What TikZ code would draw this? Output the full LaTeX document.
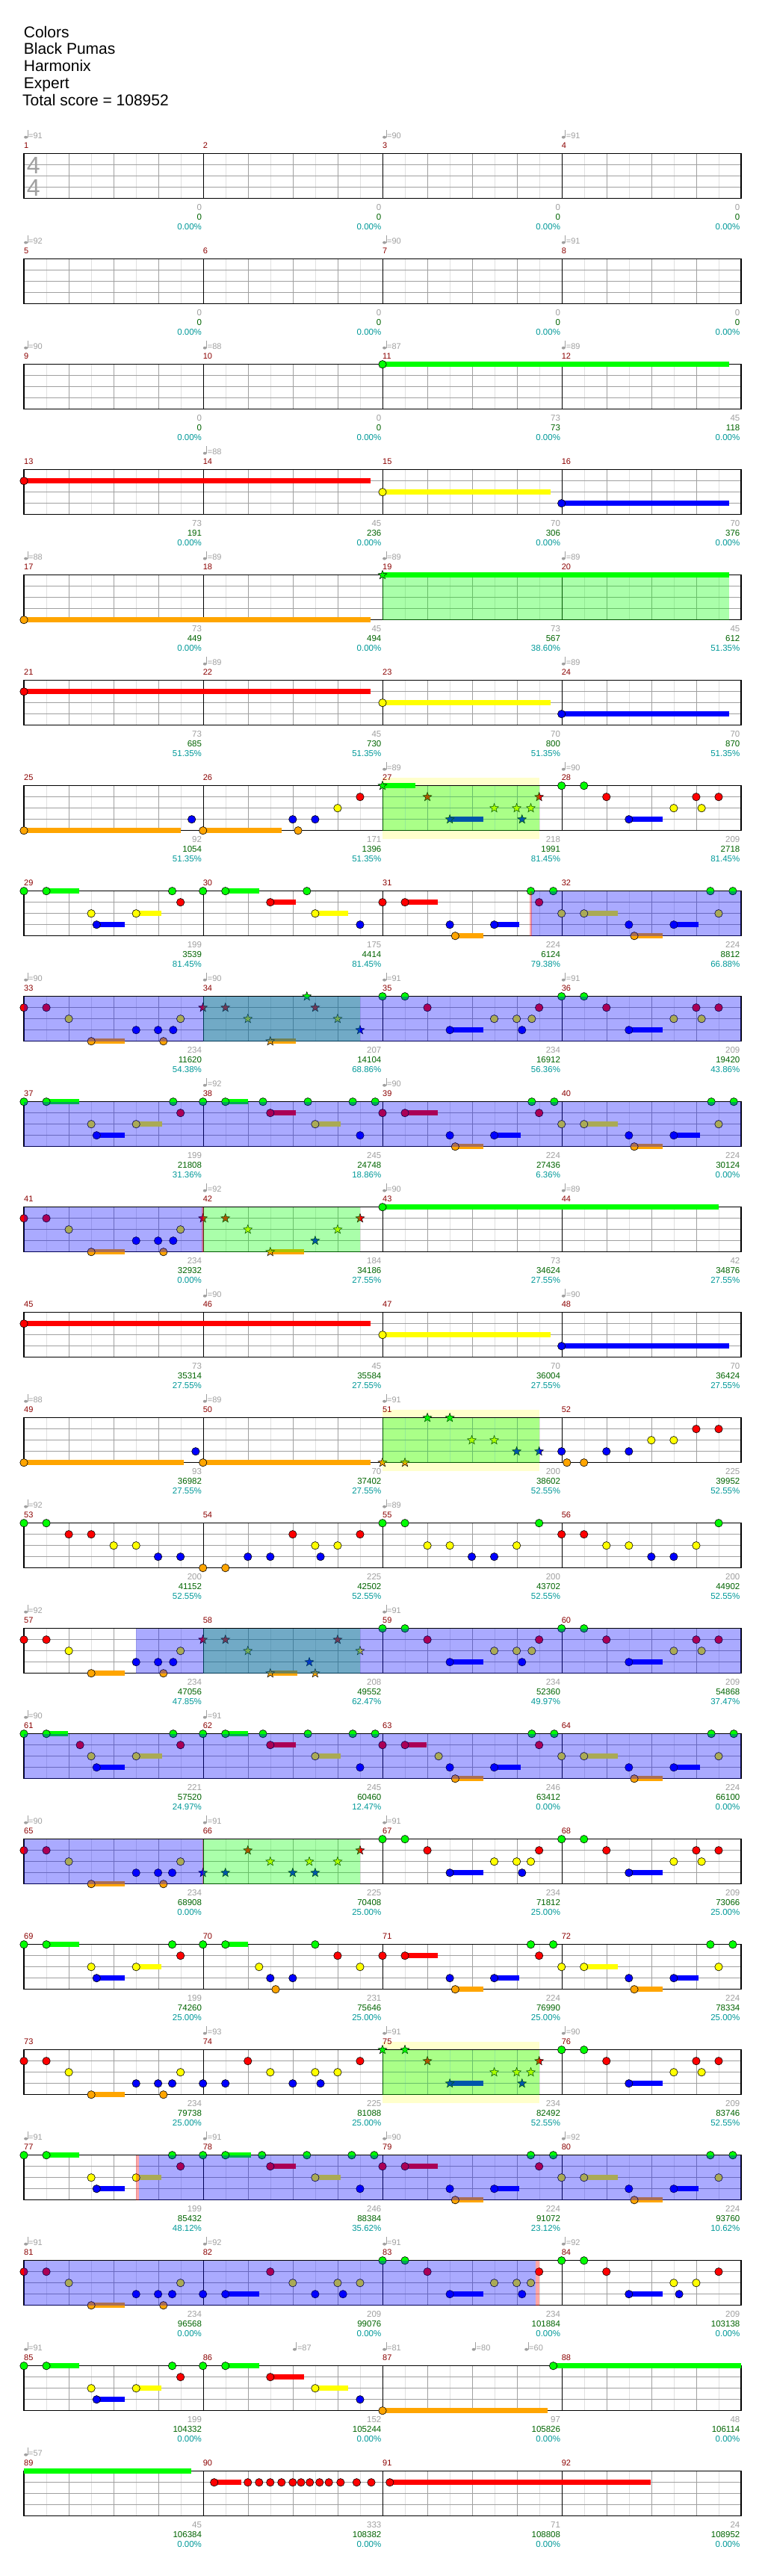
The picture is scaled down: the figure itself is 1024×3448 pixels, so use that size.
\documentclass[tikz,border=0pt]{standalone}
\usepackage{fontspec}
\setmainfont{Liberation Sans}
\usetikzlibrary{shapes.geometric}
\definecolor{lc0}{HTML}{00FF00}
\definecolor{lc1}{HTML}{FF0000}
\definecolor{lc2}{HTML}{FFFF00}
\definecolor{lc3}{HTML}{0000FF}
\definecolor{lc4}{HTML}{FFA500}
\definecolor{mred}{HTML}{8B0000}
\definecolor{lgray}{HTML}{A0A0A0}
\definecolor{sgreen}{HTML}{006400}
\definecolor{steal}{HTML}{009999}
\definecolor{ylw}{HTML}{FFFFCC}
\definecolor{litegrid}{HTML}{E0E0E0}
\tikzset{
 rw/.style={xshift=0.653pt,x=0.65306pt,y=-15pt},
 nt/.style={draw=black,line width=0.6pt},
 stn/.style={star,star points=5,star point ratio=2.4,minimum size=12.5pt,inner sep=0pt,draw=black,line width=0.5pt},
 mnum/.style={anchor=base west,inner sep=0pt,text=mred,font=\fontsize{11}{11}\selectfont},
 tempo/.style={anchor=base west,inner sep=0pt,text=lgray,font=\fontsize{11}{11}\selectfont},
 lbl/.style={anchor=base east,inner sep=0pt,font=\fontsize{11.5}{11.5}\selectfont},
 ttl/.style={anchor=base west,inner sep=0pt,font=\fontsize{21}{21}\selectfont},
 tsig/.style={inner sep=0pt,text=lgray,font=\fontsize{32}{32}\selectfont},
}
\newcommand\grid{%
 \foreach \i in {1,3,...,31}{\draw[litegrid,line width=0.9pt] ({48+45.9375*\i},0)--({48+45.9375*\i},4);}
 \foreach \i in {2,4,6,10,12,14,18,20,22,26,28,30}{\draw[lgray,line width=0.9pt] ({48+45.9375*\i},0)--({48+45.9375*\i},4);}
 \foreach \l in {1,2,3}{\draw[lgray,line width=0.9pt] (48,\l)--(1518,\l);}
 \foreach \i in {8,16,24}{\draw[black,line width=0.8pt] ({48+45.9375*\i},0)--({48+45.9375*\i},4);}
 \draw[black,line width=1.4pt] (48,0) rectangle (1518,4);}
\newcommand\mnums[1]{\node[mnum] at (48,-0.513){#1};\node[mnum] at (415,-0.513){\the\numexpr#1+1\relax};\node[mnum] at (783,-0.513){\the\numexpr#1+2\relax};\node[mnum] at (1150,-0.513){\the\numexpr#1+3\relax};}
\newcommand\tp[2]{\fill[lgray] (#1,-1.467) ++(2.6pt,0pt) ellipse [x radius=2.5pt, y radius=1.9pt];\draw[lgray,line width=0.7pt] (#1,-1.467) ++(4.9pt,0pt) -- ++(0pt,10pt);\node[tempo,xshift=6pt] at (#1,-1.333) {=#2};}
\newcommand\lb[4]{\node[lbl,text=lgray,xshift=-1.5pt] at (#1,5.067){#2};\node[lbl,text=sgreen,xshift=-1.5pt] at (#1,5.933){#3};\node[lbl,text=steal,xshift=-1.5pt] at (#1,6.8){#4\%};}
\newcommand\nn[2]{\draw[nt,fill=lc#2] (#1,#2) circle [radius=5.2pt];}
\newcommand\sn[3]{\draw[lc#3,line width=7pt] (#1,#3)--(#2,#3);\nn{#1}{#3}}
\newcommand\st[2]{\node[stn,fill=lc#2] at (#1,#2) {};}
\newcommand\sst[3]{\draw[lc#3,line width=7pt] (#1,#3)--(#2,#3);\st{#1}{#3}}
\newcommand\gov[2]{\fill[lc0,opacity=0.333] (#1,0) rectangle (#2,4);}
\newcommand\bov[2]{\fill[lc3,opacity=0.333] (#1,0) rectangle (#2,4);}
\newcommand\pnk[2]{\fill[lc1,opacity=0.35] (#1,0) rectangle (#2,4);}
\newcommand\yreg[2]{\fill[ylw] (#1,-0.713) rectangle (#2,4.733);}
\begin{document}
\begin{tikzpicture}
\useasboundingbox (0pt,0pt) rectangle (1024pt,-3448pt);
\fill[white] (0pt,0pt) rectangle (1024pt,-3448pt);
\node[ttl] (t1) at (31.7pt,-50pt) {Colors};
\node[ttl] (t2) at (31.7pt,-72.8pt) {Black Pumas};
\node[ttl] (t3) at (31.7pt,-95.6pt) {Harmonix};
\node[ttl] (t4) at (31.7pt,-118.4pt) {Expert};
\node[ttl] (t5) at (30pt,-141.2pt) {Total score = 108952};
% row 0
\begin{scope}[yshift=-205.7pt,rw]
\grid
\node[tsig] (ts1) at (67.5,1.02) {4};\node[tsig] (ts2) at (67.5,3.02) {4};
\mnums{1}\tp{48}{91}\tp{783}{90}\tp{1150}{91}
\lb{415}{0}{0}{0.00}\lb{783}{0}{0}{0.00}\lb{1150}{0}{0}{0.00}\lb{1518}{0}{0}{0.00}
\end{scope}
% row 1
\begin{scope}[yshift=-346.7pt,rw]
\grid
\mnums{5}\tp{48}{92}\tp{783}{90}\tp{1150}{91}
\lb{415}{0}{0}{0.00}\lb{783}{0}{0}{0.00}\lb{1150}{0}{0}{0.00}\lb{1518}{0}{0}{0.00}
\end{scope}
% row 2
\begin{scope}[yshift=-487.7pt,rw]
\grid
\mnums{9}\tp{48}{90}\tp{415}{88}\tp{783}{87}\tp{1150}{89}
\sn{783}{1493}{0}
\lb{415}{0}{0}{0.00}\lb{783}{0}{0}{0.00}\lb{1150}{73}{73}{0.00}\lb{1518}{45}{118}{0.00}
\end{scope}
% row 3
\begin{scope}[yshift=-628.7pt,rw]
\grid
\mnums{13}\tp{415}{88}
\sn{48}{758}{1}\sn{783}{1127}{2}\sn{1150}{1493}{3}
\lb{415}{73}{191}{0.00}\lb{783}{45}{236}{0.00}\lb{1150}{70}{306}{0.00}\lb{1518}{70}{376}{0.00}
\end{scope}
% row 4
\begin{scope}[yshift=-769.7pt,rw]
\grid
\mnums{17}\tp{48}{88}\tp{415}{89}\tp{783}{89}\tp{1150}{89}
\sn{48}{758}{4}\sst{783}{1493}{0}
\gov{783}{1493}
\lb{415}{73}{449}{0.00}\lb{783}{45}{494}{0.00}\lb{1150}{73}{567}{38.60}\lb{1518}{45}{612}{51.35}
\end{scope}
% row 5
\begin{scope}[yshift=-910.7pt,rw]
\grid
\mnums{21}\tp{415}{89}\tp{1150}{89}
\sn{48}{758}{1}\sn{783}{1127}{2}\sn{1150}{1493}{3}
\lb{415}{73}{685}{51.35}\lb{783}{45}{730}{51.35}\lb{1150}{70}{800}{51.35}\lb{1518}{70}{870}{51.35}
\end{scope}
% row 6
\begin{scope}[yshift=-1051.7pt,rw]
\yreg{783}{1104}
\grid
\mnums{25}\tp{783}{89}\tp{1150}{90}
\sn{48}{369}{4}\nn{392}{3}\sn{415}{576}{4}\nn{599}{3}\nn{610}{4}\nn{645}{3}\nn{691}{2}\nn{737}{1}
\sst{783}{851}{0}\st{875}{1}\sst{921}{989}{3}\st{1012}{2}\st{1058}{2}\st{1069}{3}\st{1087}{2}\st{1104}{1}
\nn{1150}{0}\nn{1196}{0}\nn{1242}{1}\sn{1288}{1357}{3}\nn{1380}{2}\nn{1426}{1}\nn{1437}{2}\nn{1472}{1}
\gov{783}{1104}
\lb{415}{92}{1054}{51.35}\lb{783}{171}{1396}{51.35}\lb{1150}{218}{1991}{81.45}\lb{1518}{209}{2718}{81.45}
\end{scope}
% row 7
\begin{scope}[yshift=-1192.7pt,rw]
\grid
\mnums{29}
\nn{48}{0}\sn{94}{162}{0}\nn{352}{0}\nn{415}{0}\sn{461}{530}{0}\nn{628}{0}\nn{1087}{0}\nn{1133}{0}\nn{1455}{0}\nn{1501}{0}
\nn{369}{1}\sn{553}{605}{1}\nn{783}{1}\sn{829}{897}{1}\nn{1104}{1}
\nn{186}{2}\sn{278}{329}{2}\sn{645}{713}{2}\nn{1150}{2}\sn{1196}{1265}{2}\nn{1472}{2}
\sn{197}{254}{3}\nn{737}{3}\nn{921}{3}\sn{1012}{1063}{3}\nn{1288}{3}\sn{1380}{1431}{3}
\sn{932}{989}{4}\sn{1299}{1357}{4}
\bov{1087}{1518}\pnk{1085}{1089}
\lb{415}{199}{3539}{81.45}\lb{783}{175}{4414}{81.45}\lb{1150}{224}{6124}{79.38}\lb{1518}{224}{8812}{66.88}
\end{scope}
% row 8
\begin{scope}[yshift=-1333.7pt,rw]
\grid
\mnums{33}\tp{48}{90}\tp{415}{90}\tp{783}{91}\tp{1150}{91}
\nn{48}{1}\nn{94}{1}\nn{140}{2}\sn{186}{254}{4}\nn{278}{3}\nn{323}{3}\nn{334}{4}\nn{354}{3}\nn{369}{2}
\st{415}{1}\st{461}{1}\st{507}{2}\sst{553}{605}{4}\st{628}{0}\st{645}{1}\st{691}{2}\st{737}{3}
\nn{783}{0}\nn{829}{0}\nn{875}{1}\sn{921}{989}{3}\nn{1012}{2}\nn{1058}{2}\nn{1069}{3}\nn{1089}{2}\nn{1104}{1}
\nn{1150}{0}\nn{1196}{0}\nn{1242}{1}\sn{1288}{1357}{3}\nn{1380}{2}\nn{1426}{1}\nn{1437}{2}\nn{1472}{1}
\gov{415}{737}\bov{48}{1518}
\lb{415}{234}{11620}{54.38}\lb{783}{207}{14104}{68.86}\lb{1150}{234}{16912}{56.36}\lb{1518}{209}{19420}{43.86}
\end{scope}
% row 9
\begin{scope}[yshift=-1474.7pt,rw]
\grid
\mnums{37}\tp{415}{92}\tp{783}{90}
\nn{48}{0}\sn{94}{162}{0}\nn{354}{0}\nn{415}{0}\sn{461}{507}{0}\nn{538}{0}\nn{630}{0}\nn{722}{0}\nn{768}{0}\nn{1089}{0}\nn{1135}{0}\nn{1457}{0}\nn{1503}{0}
\nn{369}{1}\sn{553}{606}{1}\nn{783}{1}\sn{829}{897}{1}\nn{1104}{1}
\nn{186}{2}\sn{278}{331}{2}\sn{645}{697}{2}\nn{1150}{2}\sn{1196}{1265}{2}\nn{1472}{2}
\sn{197}{254}{3}\nn{737}{3}\nn{921}{3}\sn{1012}{1066}{3}\nn{1288}{3}\sn{1380}{1433}{3}
\sn{932}{989}{4}\sn{1299}{1357}{4}
\bov{48}{1518}
\lb{415}{199}{21808}{31.36}\lb{783}{245}{24748}{18.86}\lb{1150}{224}{27436}{6.36}\lb{1518}{224}{30124}{0.00}
\end{scope}
% row 10
\begin{scope}[yshift=-1615.7pt,rw]
\grid
\mnums{41}\tp{415}{92}\tp{783}{90}\tp{1150}{89}
\nn{48}{1}\nn{94}{1}\nn{140}{2}\sn{186}{254}{4}\nn{278}{3}\nn{323}{3}\nn{334}{4}\nn{354}{3}\nn{369}{2}
\st{415}{1}\st{461}{1}\st{507}{2}\sst{553}{622}{4}\st{645}{3}\st{691}{2}\st{737}{1}
\sn{783}{1472}{0}
\bov{48}{415}\gov{415}{737}\pnk{413}{417}
\lb{415}{234}{32932}{0.00}\lb{783}{184}{34186}{27.55}\lb{1150}{73}{34624}{27.55}\lb{1518}{42}{34876}{27.55}
\end{scope}
% row 11
\begin{scope}[yshift=-1756.7pt,rw]
\grid
\mnums{45}\tp{415}{90}\tp{1150}{90}
\sn{48}{758}{1}\sn{783}{1127}{2}\sn{1150}{1493}{3}
\lb{415}{73}{35314}{27.55}\lb{783}{45}{35584}{27.55}\lb{1150}{70}{36004}{27.55}\lb{1518}{70}{36424}{27.55}
\end{scope}
% row 12
\begin{scope}[yshift=-1897.7pt,rw]
\yreg{783}{1104}
\grid
\mnums{49}\tp{48}{88}\tp{415}{89}\tp{783}{91}
\sn{48}{376}{4}\nn{400}{3}\sn{415}{758}{4}
\st{783}{4}\st{829}{4}\st{875}{0}\st{921}{0}\st{966}{2}\st{1012}{2}\st{1058}{3}\st{1104}{3}
\nn{1150}{3}\nn{1161}{4}\nn{1196}{4}\nn{1242}{3}\nn{1288}{3}\nn{1334}{2}\nn{1380}{2}\nn{1426}{1}\nn{1472}{1}
\gov{783}{1104}
\lb{415}{93}{36982}{27.55}\lb{783}{70}{37402}{27.55}\lb{1150}{200}{38602}{52.55}\lb{1518}{225}{39952}{52.55}
\end{scope}
% row 13
\begin{scope}[yshift=-2038.7pt,rw]
\grid
\mnums{53}\tp{48}{92}\tp{783}{89}
\nn{48}{0}\nn{94}{0}\nn{140}{1}\nn{186}{1}\nn{232}{2}\nn{278}{2}\nn{323}{3}\nn{369}{3}\nn{415}{4}\nn{461}{4}\nn{507}{3}\nn{553}{3}\nn{599}{1}\nn{645}{2}\nn{656}{3}\nn{691}{2}\nn{737}{1}
\nn{783}{0}\nn{829}{0}\nn{875}{2}\nn{921}{2}\nn{966}{3}\nn{1012}{3}\nn{1058}{2}\nn{1104}{0}\nn{1150}{1}\nn{1196}{1}\nn{1242}{2}\nn{1288}{2}\nn{1334}{3}\nn{1380}{3}\nn{1426}{2}\nn{1472}{0}
\lb{415}{200}{41152}{52.55}\lb{783}{225}{42502}{52.55}\lb{1150}{200}{43702}{52.55}\lb{1518}{200}{44902}{52.55}
\end{scope}
% row 14
\begin{scope}[yshift=-2179.7pt,rw]
\grid
\mnums{57}\tp{48}{92}\tp{783}{91}
\nn{48}{1}\nn{94}{1}\nn{140}{2}\sn{186}{254}{4}\nn{278}{3}\nn{323}{3}\nn{334}{4}\nn{354}{3}\nn{369}{2}
\st{415}{1}\st{461}{1}\st{507}{2}\sst{553}{608}{4}\st{633}{3}\st{645}{4}\st{691}{1}\st{737}{2}
\nn{783}{0}\nn{829}{0}\nn{875}{1}\sn{921}{989}{3}\nn{1012}{2}\nn{1058}{2}\nn{1069}{3}\nn{1089}{2}\nn{1104}{1}
\nn{1150}{0}\nn{1196}{0}\nn{1242}{1}\sn{1288}{1357}{3}\nn{1380}{2}\nn{1426}{1}\nn{1437}{2}\nn{1472}{1}
\gov{415}{737}\bov{278}{1518}
\lb{415}{234}{47056}{47.85}\lb{783}{208}{49552}{62.47}\lb{1150}{234}{52360}{49.97}\lb{1518}{209}{54868}{37.47}
\end{scope}
% row 15
\begin{scope}[yshift=-2320.7pt,rw]
\grid
\mnums{61}\tp{48}{90}\tp{415}{91}
\nn{48}{0}\sn{94}{139}{0}\nn{163}{1}\nn{186}{2}\sn{197}{254}{3}\sn{278}{331}{2}\nn{354}{0}\nn{369}{1}
\nn{415}{0}\sn{461}{507}{0}\nn{538}{0}\sn{553}{606}{1}\nn{630}{0}\sn{645}{697}{2}\nn{722}{0}\nn{737}{3}\nn{768}{0}
\nn{783}{1}\sn{829}{874}{1}\nn{898}{2}\nn{921}{3}\sn{932}{989}{4}\sn{1012}{1066}{3}\nn{1089}{0}\nn{1104}{1}\nn{1135}{0}
\nn{1150}{2}\sn{1196}{1265}{2}\nn{1288}{3}\sn{1299}{1357}{4}\sn{1380}{1433}{3}\nn{1457}{0}\nn{1472}{2}\nn{1503}{0}
\bov{48}{1518}
\lb{415}{221}{57520}{24.97}\lb{783}{245}{60460}{12.47}\lb{1150}{246}{63412}{0.00}\lb{1518}{224}{66100}{0.00}
\end{scope}
% row 16
\begin{scope}[yshift=-2461.7pt,rw]
\grid
\mnums{65}\tp{48}{90}\tp{415}{91}\tp{783}{91}
\nn{48}{1}\nn{94}{1}\nn{140}{2}\sn{186}{254}{4}\nn{278}{3}\nn{323}{3}\nn{334}{4}\nn{352}{3}\nn{369}{2}
\st{415}{3}\st{461}{3}\st{507}{1}\st{553}{2}\st{599}{3}\st{633}{2}\st{645}{3}\st{691}{2}\st{737}{1}
\nn{783}{0}\nn{829}{0}\nn{875}{1}\sn{921}{989}{3}\nn{1012}{2}\nn{1058}{2}\nn{1069}{3}\nn{1087}{2}\nn{1104}{1}
\nn{1150}{0}\nn{1196}{0}\nn{1242}{1}\sn{1288}{1357}{3}\nn{1380}{2}\nn{1426}{1}\nn{1437}{2}\nn{1472}{1}
\bov{48}{415}\gov{415}{737}\pnk{414}{416}
\lb{415}{234}{68908}{0.00}\lb{783}{225}{70408}{25.00}\lb{1150}{234}{71812}{25.00}\lb{1518}{209}{73066}{25.00}
\end{scope}
% row 17
\begin{scope}[yshift=-2602.7pt,rw]
\grid
\mnums{69}
\nn{48}{0}\sn{94}{162}{0}\nn{186}{2}\sn{197}{254}{3}\sn{278}{329}{2}\nn{352}{0}\nn{369}{1}
\nn{415}{0}\sn{461}{507}{0}\nn{530}{2}\nn{553}{3}\nn{564}{4}\nn{599}{3}\nn{645}{0}\nn{691}{1}\nn{737}{2}
\nn{783}{1}\sn{829}{897}{1}\nn{921}{3}\sn{932}{989}{4}\sn{1012}{1063}{3}\nn{1087}{0}\nn{1104}{1}\nn{1133}{0}
\nn{1150}{2}\sn{1196}{1265}{2}\nn{1288}{3}\sn{1299}{1357}{4}\sn{1380}{1431}{3}\nn{1455}{0}\nn{1472}{2}\nn{1501}{0}
\lb{415}{199}{74260}{25.00}\lb{783}{231}{75646}{25.00}\lb{1150}{224}{76990}{25.00}\lb{1518}{224}{78334}{25.00}
\end{scope}
% row 18
\begin{scope}[yshift=-2743.7pt,rw]
\yreg{783}{1104}
\grid
\mnums{73}\tp{415}{93}\tp{783}{91}\tp{1150}{90}
\nn{48}{1}\nn{94}{1}\nn{140}{2}\sn{186}{254}{4}\nn{278}{3}\nn{323}{3}\nn{334}{4}\nn{352}{3}\nn{369}{2}
\nn{415}{3}\nn{461}{3}\nn{507}{1}\nn{553}{2}\nn{599}{3}\nn{645}{2}\nn{656}{3}\nn{691}{2}\nn{737}{1}
\st{783}{0}\st{829}{0}\st{875}{1}\sst{921}{989}{3}\st{1012}{2}\st{1058}{2}\st{1069}{3}\st{1087}{2}\st{1104}{1}
\nn{1150}{0}\nn{1196}{0}\nn{1242}{1}\sn{1288}{1357}{3}\nn{1380}{2}\nn{1426}{1}\nn{1437}{2}\nn{1472}{1}
\gov{783}{1104}
\lb{415}{234}{79738}{25.00}\lb{783}{225}{81088}{25.00}\lb{1150}{234}{82492}{52.55}\lb{1518}{209}{83746}{52.55}
\end{scope}
% row 19
\begin{scope}[yshift=-2884.7pt,rw]
\grid
\mnums{77}\tp{48}{91}\tp{415}{91}\tp{783}{90}\tp{1150}{92}
\nn{48}{0}\sn{94}{162}{0}\nn{186}{2}\sn{197}{254}{3}\sn{278}{329}{2}\nn{352}{0}\nn{369}{1}
\nn{415}{0}\sn{461}{513}{0}\nn{536}{0}\sn{553}{605}{1}\nn{628}{0}\sn{645}{697}{2}\nn{720}{0}\nn{737}{3}\nn{766}{0}
\nn{783}{1}\sn{829}{897}{1}\nn{921}{3}\sn{932}{989}{4}\sn{1012}{1063}{3}\nn{1087}{0}\nn{1104}{1}\nn{1133}{0}
\nn{1150}{2}\sn{1196}{1265}{2}\nn{1288}{3}\sn{1299}{1357}{4}\sn{1380}{1431}{3}\nn{1455}{0}\nn{1472}{2}\nn{1501}{0}
\bov{284}{1518}\pnk{277}{284}
\lb{415}{199}{85432}{48.12}\lb{783}{246}{88384}{35.62}\lb{1150}{224}{91072}{23.12}\lb{1518}{224}{93760}{10.62}
\end{scope}
% row 20
\begin{scope}[yshift=-3025.7pt,rw]
\grid
\mnums{81}\tp{48}{91}\tp{415}{92}\tp{783}{91}\tp{1150}{92}
\nn{48}{1}\nn{94}{1}\nn{140}{2}\sn{186}{254}{4}\nn{278}{3}\nn{323}{3}\nn{334}{4}\nn{352}{3}\nn{369}{2}
\nn{415}{3}\sn{461}{530}{3}\nn{553}{1}\nn{599}{2}\nn{645}{3}\nn{691}{2}\nn{702}{3}\nn{737}{2}
\nn{783}{0}\nn{829}{0}\nn{875}{1}\sn{921}{989}{3}\nn{1012}{2}\nn{1058}{2}\nn{1069}{3}\nn{1087}{2}\nn{1104}{1}
\nn{1150}{0}\nn{1196}{0}\nn{1242}{1}\sn{1288}{1357}{3}\nn{1380}{2}\nn{1391}{3}\nn{1426}{2}\nn{1472}{1}
\bov{48}{1097}\pnk{1097}{1104}
\lb{415}{234}{96568}{0.00}\lb{783}{209}{99076}{0.00}\lb{1150}{234}{101884}{0.00}\lb{1518}{209}{103138}{0.00}
\end{scope}
% row 21
\begin{scope}[yshift=-3166.7pt,rw]
\grid
\mnums{85}\tp{48}{91}\tp{599}{87}\tp{783}{81}\tp{966}{80}\tp{1074}{60}
\nn{48}{0}\sn{94}{162}{0}\nn{186}{2}\sn{197}{254}{3}\sn{278}{329}{2}\nn{352}{0}\nn{369}{1}
\nn{415}{0}\sn{461}{530}{0}\sn{553}{622}{1}\sn{645}{713}{2}\nn{737}{3}
\sn{783}{1121}{4}\sn{1133}{1518}{0}
\lb{415}{199}{104332}{0.00}\lb{783}{152}{105244}{0.00}\lb{1150}{97}{105826}{0.00}\lb{1518}{48}{106114}{0.00}
\end{scope}
% row 22
\begin{scope}[yshift=-3307.7pt,rw]
\grid
\mnums{89}\tp{48}{57}
\draw[lc0,line width=7pt] (48,0)--(391,0);
\sn{438}{494}{1}\nn{507}{1}\nn{530}{1}\nn{553}{1}\nn{576}{1}\nn{599}{1}\nn{616}{1}\nn{634}{1}\nn{654}{1}\nn{673}{1}\nn{697}{1}\nn{730}{1}\nn{760}{1}
\sn{798}{1332}{1}
\lb{415}{45}{106384}{0.00}\lb{783}{333}{108382}{0.00}\lb{1150}{71}{108808}{0.00}\lb{1518}{24}{108952}{0.00}
\end{scope}
\end{tikzpicture}
\end{document}
